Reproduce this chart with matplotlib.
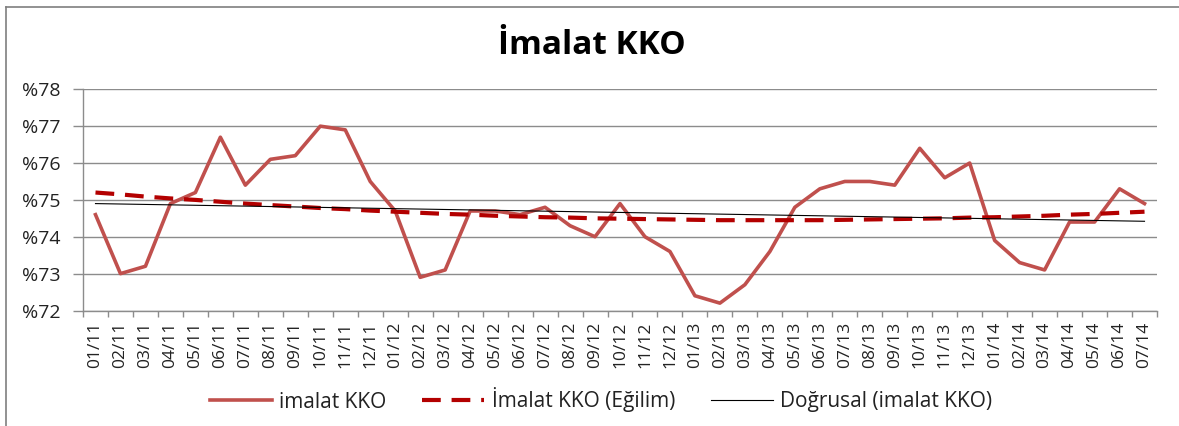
import numpy as np
import matplotlib
matplotlib.use("Agg")
import matplotlib.pyplot as plt
from matplotlib.lines import Line2D

plt.rcParams['font.family'] = ['Open Sans', 'DejaVu Sans']

months = ["01/11","02/11","03/11","04/11","05/11","06/11","07/11","08/11","09/11","10/11","11/11","12/11",
          "01/12","02/12","03/12","04/12","05/12","06/12","07/12","08/12","09/12","10/12","11/12","12/12",
          "01/13","02/13","03/13","04/13","05/13","06/13","07/13","08/13","09/13","10/13","11/13","12/13",
          "01/14","02/14","03/14","04/14","05/14","06/14","07/14"]

imalat_kko = [74.6, 73.0, 73.2, 74.9, 75.2, 76.7, 75.4, 76.1, 76.2, 77.0, 76.9, 75.5,
              74.7, 72.9, 73.1, 74.7, 74.7, 74.6, 74.8, 74.3, 74.0, 74.9, 74.0, 73.6,
              72.4, 72.2, 72.7, 73.6, 74.8, 75.3, 75.5, 75.5, 75.4, 76.4, 75.6, 76.0,
              73.9, 73.3, 73.1, 74.4, 74.4, 75.3, 74.9]

egilim = [75.20, 75.15, 75.09, 75.04, 75.00, 74.95, 74.90, 74.86, 74.82, 74.78, 74.75, 74.71,
          74.68, 74.65, 74.62, 74.60, 74.57, 74.55, 74.53, 74.52, 74.50, 74.49, 74.48, 74.47,
          74.46, 74.45, 74.45, 74.45, 74.45, 74.45, 74.46, 74.47, 74.48, 74.49, 74.50, 74.52,
          74.53, 74.55, 74.57, 74.60, 74.62, 74.65, 74.68]

dogrusal_start = 74.90
dogrusal_end = 74.42

y_ticks = [72, 73, 74, 75, 76, 77, 78]

W, H = 1179, 426
fig = plt.figure(figsize=(W/100, H/100), dpi=100)
ax = fig.add_axes([83/W, 1-310.5/H, (1157-83)/W, (310.5-89.3)/H])

x = np.arange(len(months))
gray = '#8c8c8c'

ax.plot(x, imalat_kko, color='#c0504d', lw=2.6, solid_joinstyle='round', zorder=3,
        label='imalat KKO')
ax.plot(x, egilim, color='#b30000', lw=3.0, dashes=(4.5, 2.6), dash_capstyle='butt', zorder=4,
        label='İmalat KKO (Eğilim)')
ax.plot([x[0], x[-1]], [dogrusal_start, dogrusal_end], color='black', lw=0.8, zorder=5,
        label='Doğrusal (imalat KKO)')

ax.set_xlim(-0.5, len(months) - 0.5)
ax.set_ylim(72, 78)
ax.set_yticks(y_ticks)
ax.set_yticklabels([f"%{v}" for v in y_ticks])
ax.yaxis.grid(True, color=gray, lw=1.0)
ax.set_axisbelow(True)

ax.set_xticks(x)
ax.set_xticklabels(months, rotation=90)
ax.set_xticks(np.arange(-0.5, len(months)), minor=True)
ax.tick_params(axis='x', which='major', length=0, pad=8, labelsize=12.5, colors='#222222')
ax.tick_params(axis='x', which='minor', length=4, width=1, color=gray)
ax.tick_params(axis='y', length=7, width=1, color=gray, pad=9, labelsize=14, labelcolor='#222222')

for s in ['top', 'right']:
    ax.spines[s].set_visible(False)
for s in ['left', 'bottom']:
    ax.spines[s].set_color(gray)
    ax.spines[s].set_linewidth(1.0)

fig.text(592/W, 1-45/H, 'İmalat KKO', ha='center', va='center', fontsize=24,
         fontweight='bold', color='black')

leg = fig.legend(loc='center', bbox_to_anchor=(601/W, 1-400/H), ncol=3, frameon=False,
                 fontsize=15, handlelength=3.0, columnspacing=1.7, handletextpad=0.35)
for t in leg.get_texts():
    t.set_color('#222222')

# chart border (left & top visible)
fig.add_artist(Line2D([6/W, 6/W], [0, 1-7/H], transform=fig.transFigure, color='#7f7f7f', lw=1.2))
fig.add_artist(Line2D([6/W, 1], [1-7/H, 1-7/H], transform=fig.transFigure, color='#7f7f7f', lw=1.2))

fig.savefig('out.png', dpi=100, facecolor='white')
